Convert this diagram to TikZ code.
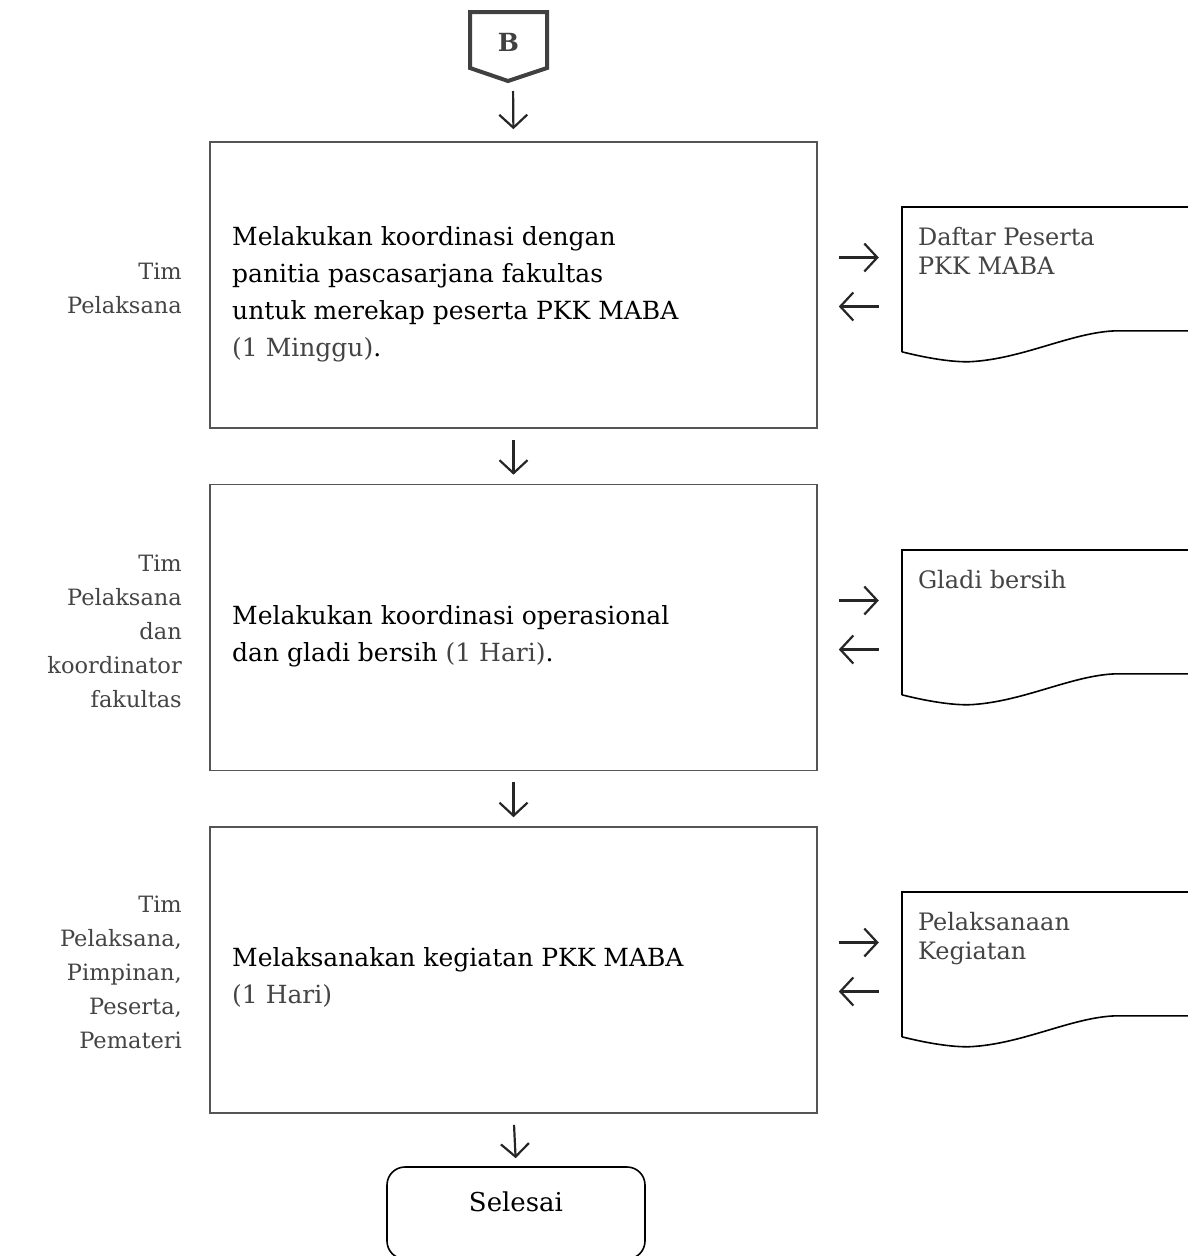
\documentclass[tikz,border=0pt]{standalone}
\usepackage{fontspec}
\setmainfont{DejaVu Serif}
\usetikzlibrary{arrows.meta,positioning,calc}
\definecolor{boxgray}{HTML}{555555}
\definecolor{txtgray}{HTML}{444444}
\definecolor{dgray}{HTML}{404040}
\tikzset{
  procbox/.style={draw=boxgray, line width=1.6pt, minimum width=607pt, minimum height=286pt, inner sep=0pt},
  maintxt/.style={anchor=west, align=left, font=\fontsize{25}{37}\selectfont, inner sep=0pt},
  lbl/.style={anchor=east, align=right, font=\fontsize{22.5}{34}\selectfont, text=txtgray, inner sep=0pt},
  docnode/.style={minimum width=285pt, minimum height=145pt, inner sep=0pt},
  doctxt/.style={anchor=north west, align=left, font=\fontsize{24}{29}\selectfont, text=txtgray, inner sep=0pt},
  flowarr/.style={-{Straight Barb[length=13pt,width=28pt,line width=2.2pt]}, line width=2.2pt, draw=black!85},
  docline/.style={draw=black, line width=1.6pt},
}
\newcommand{\gr}[1]{\textcolor{txtgray}{#1}}
\begin{document}
\begin{tikzpicture}[x=1pt,y=-1pt]
\useasboundingbox (0,0) rectangle (1187,1256);
% off-page connector B
\draw[dgray, line width=4pt, line join=miter] (470,12) -- (547,12) -- (547,68) -- (508,81) -- (470,68) -- cycle;
\node[font=\bfseries\fontsize{25}{25}\selectfont, text=dgray] (B) at (508.5,42) {B};
\coordinate (Btip) at (513,81);
% process boxes
\node[procbox] (p1) at (513.5,285) {};
\node[procbox] (p2) at (513.5,627.5) {};
\node[procbox] (p3) at (513.5,970) {};
\node[maintxt] (t1) at (232,294) {Melakukan koordinasi dengan\\panitia pascasarjana fakultas\\untuk merekap peserta PKK MABA\\\gr{(1 Minggu)}.};
\node[maintxt] (t2) at (232,636) {Melakukan koordinasi operasional\\dan gladi bersih \gr{(1 Hari)}.};
\node[maintxt] (t3) at (232,977) {Melaksanakan kegiatan PKK MABA\\\gr{(1 Hari)}};
% labels
\node[lbl] (l1) at (182,288) {Tim\\Pelaksana};
\node[lbl] (l2) at (182,631) {Tim\\Pelaksana\\dan\\koordinator\\fakultas};
\node[lbl] (l3) at (182,972) {Tim\\Pelaksana,\\Pimpinan,\\Peserta,\\Pemateri};
% end
\node[draw=black, line width=1.6pt, rounded corners=18pt, minimum width=258pt, minimum height=92pt, inner sep=0pt] (end) at (516,1213) {};
\node[font=\fontsize{26}{26}\selectfont] (endt) at (516,1202) {Selesai};
% documents
\foreach \n/\top/\txt in {1/207/{Daftar Peserta\\PKK MABA},2/550/{Gladi bersih},3/892/{Pelaksanaan\\Kegiatan}}{
  \node[docnode] (d\n) at (1044.5,\top+72.5) {};
  \begin{scope}[shift={(d\n.north west)}]
    \draw[docline] (0,145) -- (0,0) -- (290,0);
    \draw[docline] (0,145) .. controls (20,150) and (45,155) .. (66,155)
      .. controls (120,153) and (170,125) .. (215,124) -- (290,124);
  \end{scope}
  \node[doctxt] (dt\n) at ([shift={(16,20)}]d\n.north west) {\txt};
  \coordinate (ra\n) at ([yshift=22pt]d\n.west);
  \coordinate (la\n) at ([yshift=-27pt]d\n.west);
}
% vertical flow arrows
\draw[flowarr, shorten <=10pt, shorten >=12pt] (Btip) -- (p1.north);
\draw[flowarr, shorten <=11pt, shorten >=9pt] (p1.south) -- (p2.north);
\draw[flowarr, shorten <=11pt, shorten >=9pt] (p2.south) -- (p3.north);
\draw[flowarr, shorten <=11pt, shorten >=8pt] (p3.south) -- (end.north);
% side arrows
\foreach \n in {1,2,3}{
  \draw[flowarr, shorten <=21pt, shorten >=23pt] (p\n.east |- ra\n) -- (ra\n);
  \draw[flowarr, shorten <=23pt, shorten >=21pt] (la\n) -- (p\n.east |- la\n);
}
\end{tikzpicture}
\end{document}
